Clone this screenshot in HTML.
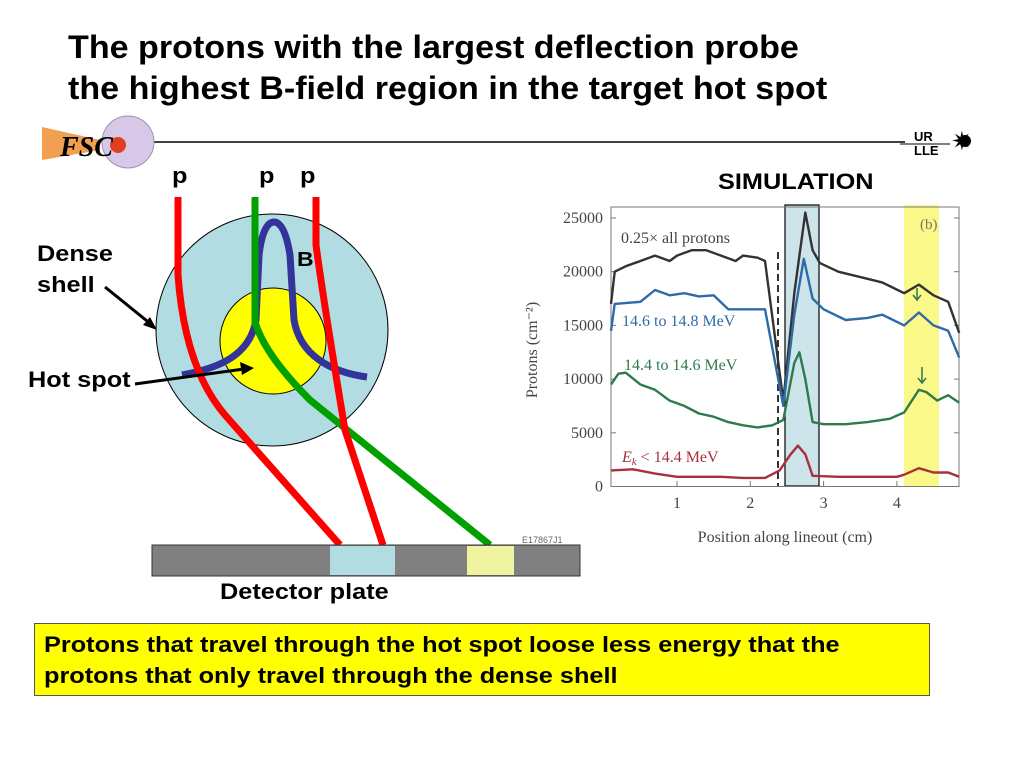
<!DOCTYPE html>
<html><head><meta charset="utf-8"><style>
body{margin:0;width:1024px;height:768px;background:#fff;position:relative;overflow:hidden;font-family:"Liberation Sans",sans-serif}
.t{position:absolute;font-weight:bold;color:#000;transform:scaleX(1.15);transform-origin:0 0;white-space:nowrap}
</style></head><body>
<div class="t" style="left:68px;top:27px;font-size:32px;line-height:41px;transform:scaleX(1.065)">The protons with the largest deflection probe<br>the highest B-field region in the target hot spot</div>
<svg width="1024" height="768" style="position:absolute;left:0;top:0">
 <line x1="150" y1="142" x2="905" y2="142" stroke="#000" stroke-width="1.5"/>
 <g>
  <polygon points="42,127 100,140 100,150 42,160" fill="#f0a050"/>
  <circle cx="128" cy="142" r="26" fill="#d8c8e8" stroke="#a090b0"/>
  <circle cx="118" cy="145" r="8" fill="#e04020"/>
  <text x="60" y="156" font-family="Liberation Serif" font-style="italic" font-weight="bold" font-size="28">FSC</text>
 </g>
 <g>
  <text x="914" y="141" font-size="13" font-weight="bold">UR</text>
  <text x="914" y="155" font-size="13" font-weight="bold">LLE</text>
  <line x1="900" y1="144" x2="950" y2="144" stroke="#000"/>
  <circle cx="965" cy="141" r="6" fill="#000"/>
  <text x="951" y="150" font-size="26">✷</text>
 </g>
 <g>
  <circle cx="272" cy="330" r="116" fill="#b0dce2" stroke="#000" stroke-width="1"/>
  <circle cx="273" cy="341" r="53" fill="#ffff00" stroke="#000" stroke-width="1"/>
  <path d="M182,375 C220,368 250,355 256,320 L259,255 C262,230 268,222 274,222 C280,222 286,230 290,255 L294,320 C300,355 330,372 367,377" fill="none" stroke="#333399" stroke-width="7"/>
  <path d="M178,197 L178,275 C182,330 195,380 225,415 L340,545" fill="none" stroke="#ff0000" stroke-width="7"/>
  <path d="M255,197 L255,322 C262,345 280,370 310,400 L490,545" fill="none" stroke="#00a000" stroke-width="7"/>
  <path d="M316,197 L316,245 C322,290 335,370 345,430 L383,545" fill="none" stroke="#ff0000" stroke-width="7"/>
  <line x1="105" y1="287" x2="152" y2="325" stroke="#000" stroke-width="3"/>
  <polygon points="157,330 143,325 150,317" fill="#000"/>
  <line x1="135" y1="384" x2="244" y2="369" stroke="#000" stroke-width="3"/>
  <polygon points="254,368 240,362 242,375" fill="#000"/>
  <rect x="152" y="545" width="428" height="31" fill="#808080" stroke="#333"/>
  <rect x="330" y="546" width="65" height="29" fill="#b0dce2"/>
  <rect x="467" y="546" width="47" height="29" fill="#f0f4a0"/>
  <text x="522" y="543" font-size="9" fill="#666">E17867J1</text>
 </g>
</svg>
<div class="t" style="left:172px;top:163px;font-size:22px">p</div>
<div class="t" style="left:259px;top:163px;font-size:22px">p</div>
<div class="t" style="left:300px;top:163px;font-size:22px">p</div>
<div class="t" style="left:297px;top:249px;font-size:20px">B</div>
<div class="t" style="left:37px;top:238px;font-size:22px;line-height:31px">Dense<br>shell</div>
<div class="t" style="left:28px;top:367px;font-size:22px">Hot spot</div>
<div class="t" style="left:220px;top:579px;font-size:22px">Detector plate</div>
<div class="t" style="left:718px;top:169px;font-size:22px">SIMULATION</div>
<div style="position:absolute;left:34px;top:623px;width:894px;height:71px;background:#ffff00;border:1px solid #555"></div>
<div class="t" style="left:44px;top:629px;font-size:22px;line-height:31px">Protons that travel through the hot spot loose less energy that the<br>protons that only travel through the dense shell</div>
<svg id="chart" width="1024" height="768" style="position:absolute;left:0;top:0"></svg>
<script>
const xTicks=[1,2,3,4];
const yTicks=[0,5000,10000,15000,20000,25000];
const blackX=[0.1,0.15,0.3,0.5,0.7,0.9,1.0,1.2,1.4,1.6,1.8,1.9,2.1,2.2,2.45,2.6,2.75,2.85,2.95,3.2,3.5,3.8,4.1,4.3,4.5,4.7,4.85];
const blackY=[17000,20000,20500,21000,21500,21000,21500,22000,22000,21500,21000,21500,21300,21000,8000,18000,25500,22000,20800,20000,19500,19000,18000,18800,17800,17200,14300];
const blueX=[0.1,0.15,0.5,0.7,0.9,1.1,1.3,1.5,1.7,1.9,2.2,2.45,2.6,2.73,2.85,3.0,3.3,3.6,3.8,4.1,4.3,4.5,4.7,4.85];
const blueY=[14500,17000,17200,18300,17800,18000,17700,17800,16500,16500,16500,7500,16000,21200,17500,16500,15500,15700,16000,15000,16200,15000,14500,12000];
const greenX=[0.1,0.2,0.3,0.5,0.7,0.9,1.1,1.3,1.5,1.7,1.9,2.1,2.3,2.45,2.6,2.67,2.75,2.85,3.0,3.3,3.6,3.9,4.1,4.3,4.4,4.55,4.7,4.85];
const greenY=[9500,10500,10600,9500,9000,8000,7500,6800,6500,6000,5700,5500,5700,6200,11500,12500,10000,6000,5800,5800,6000,6300,6900,9000,8800,8000,8500,7800];
const redX=[0.1,0.4,0.7,1.0,1.3,1.6,1.9,2.2,2.4,2.55,2.65,2.75,2.85,3.2,3.6,4.0,4.1,4.3,4.5,4.7,4.85];
const redY=[1500,1600,1200,900,900,900,800,800,1500,3000,3800,3000,1000,900,900,900,1100,1700,1300,1300,900];
const NS='http://www.w3.org/2000/svg';
const svg=document.getElementById('chart');
const sx=v=>677+(v-1)*73.3;
const sy=v=>486.5-v*(268.5/25000);
function mk(tag,attrs,parent){const e=document.createElementNS(NS,tag);for(const k in attrs)e.setAttribute(k,attrs[k]);(parent||svg).appendChild(e);return e;}
let e;
e=mk('rect',{x:785,y:205,width:34,height:281,fill:'#cde4ea',stroke:'#000','stroke-width':1.2});


e=mk('rect',{x:904,y:205,width:35,height:281,fill:'#fbf88a'});


e=mk('rect',{x:611,y:207,width:348,height:279.5,fill:'none',stroke:'#777','stroke-width':1});


e=mk('line',{x1:778,y1:252,x2:778,y2:486,stroke:'#333','stroke-width':2,'stroke-dasharray':'7,4'});


yTicks.forEach(v=>{
 mk('line',{x1:611,y1:sy(v),x2:616,y2:sy(v),stroke:'#777'});
 mk('line',{x1:954,y1:sy(v),x2:959,y2:sy(v),stroke:'#777'});
 const t=mk('text',{x:603,y:sy(v)+5,'text-anchor':'end','font-family':'Liberation Serif','font-size':16,fill:'#444'});t.textContent=v;
 
 
});
xTicks.forEach(v=>{
 mk('line',{x1:sx(v),y1:486,x2:sx(v),y2:481,stroke:'#777'});
 const t=mk('text',{x:sx(v),y:508,'text-anchor':'middle','font-family':'Liberation Serif','font-size':16,fill:'#444'});t.textContent=v;
 
 
});
e=mk('text',{x:785,y:542,'text-anchor':'middle','font-family':'Liberation Serif','font-size':16,fill:'#444'});e.textContent='Position along lineout (cm)';


e=mk('text',{x:0,y:0,'text-anchor':'middle','font-family':'Liberation Serif','font-size':16,fill:'#444',transform:'translate(537,350) rotate(-90)'});e.textContent='Protons (cm⁻²)';


e=mk('text',{x:920,y:229,'font-family':'Liberation Serif','font-size':15,fill:'#776'});e.textContent='(b)';


function line(xs,ys,col,name){
 const d=xs.map((x,i)=>(i?'L':'M')+sx(x).toFixed(1)+','+sy(ys[i]).toFixed(1)).join(' ');
 const p=mk('path',{d:d,fill:'none',stroke:col,'stroke-width':2.4,'stroke-linejoin':'round'});
 
 
}
line(blackX,blackY,'#333','series-all-protons');
line(blueX,blueY,'#2f6aa8','series-14.6-14.8');
line(greenX,greenY,'#2e7a4e','series-14.4-14.6');
line(redX,redY,'#a8303c','series-below-14.4');
function lab(x,y,txt,col,name){const t=mk('text',{x:x,y:y,'font-family':'Liberation Serif','font-size':16,fill:col});t.innerHTML=txt;
 
 }
lab(621,243,'0.25× all protons','#444','label-all-protons');
lab(622,326,'14.6 to 14.8 MeV','#2f6aa8','label-14.6-14.8');
lab(624,370,'14.4 to 14.6 MeV','#2e7a4e','label-14.4-14.6');
lab(622,462,'<tspan font-style="italic">E<tspan font-size="11" dy="3">k</tspan></tspan><tspan dy="-3"> &lt; 14.4 MeV</tspan>','#a8303c','label-below-14.4');
[[917,288,300],[922,367,383]].forEach(a=>{
 e=mk('path',{d:`M${a[0]},${a[1]} L${a[0]},${a[2]} M${a[0]-4},${a[2]-5} L${a[0]},${a[2]} L${a[0]+4},${a[2]-5}`,stroke:'#2e7a4e','stroke-width':1.5,fill:'none'});
 
 
});
</script>
</body></html>
